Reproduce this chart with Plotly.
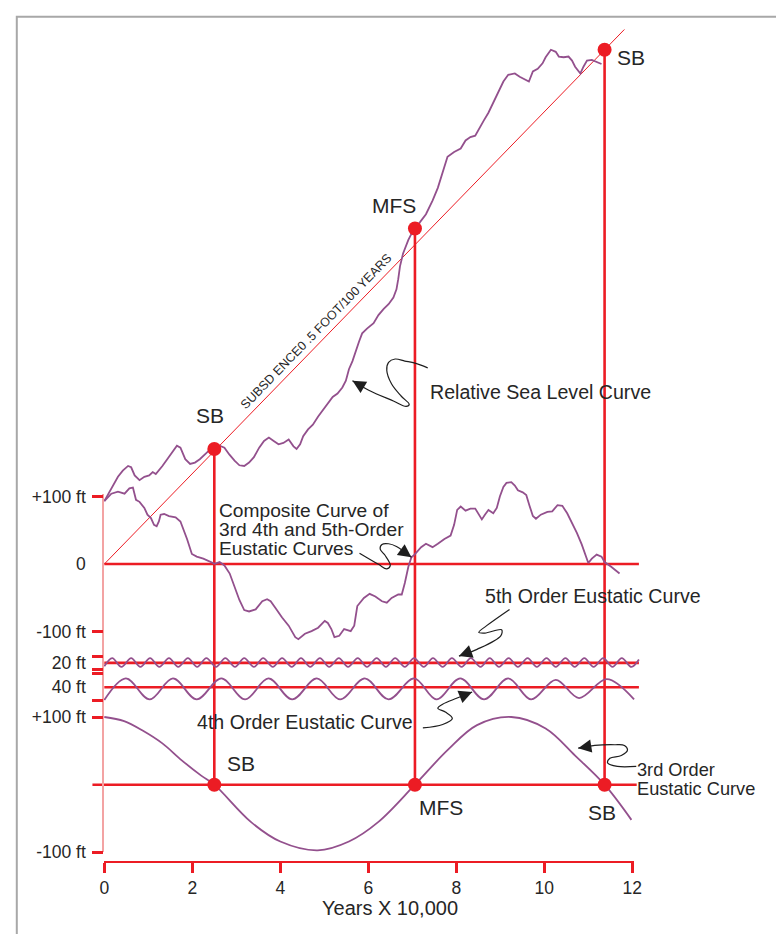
import math
import plotly.graph_objects as go

# ---------------------------------------------------------------------------
# Data: time in units of 10,000 years, elevations in feet
# ---------------------------------------------------------------------------

# Composite of 3rd, 4th and 5th-order eustatic curves (relative to its datum)
COMPOSITE_X = [0, 0.16, 0.31, 0.46, 0.57, 0.65, 0.72, 0.80, 0.91, 0.98,
               1.06, 1.13, 1.19, 1.24, 1.28, 1.36, 1.47, 1.62, 1.73, 1.80,
               1.88, 1.99, 2.10, 2.25, 2.40, 2.51, 2.62, 2.73, 2.85, 2.96,
               3.07, 3.18, 3.29, 3.44, 3.59, 3.70, 3.78, 3.89, 4.04, 4.19,
               4.34, 4.41, 4.56, 4.71, 4.86, 5.01, 5.08, 5.16, 5.23, 5.34,
               5.45, 5.60, 5.68, 5.75, 5.90, 6.03, 6.16, 6.31, 6.42, 6.53,
               6.68, 6.76, 6.83, 6.91, 6.98, 7.05, 7.20, 7.31, 7.39, 7.46,
               7.58, 7.73, 7.87, 7.95, 8.02, 8.10, 8.21, 8.32, 8.43, 8.51,
               8.58, 8.65, 8.73, 8.84, 8.92, 8.99, 9.07, 9.14, 9.25, 9.33,
               9.40, 9.51, 9.59, 9.66, 9.74, 9.81, 9.92, 10.07, 10.18, 10.30,
               10.41, 10.52, 10.63, 10.74, 10.85, 10.93, 11.00, 11.08, 11.19, 11.30,
               11.37, 11.52, 11.71]
COMPOSITE_FT = [93, 104, 107, 104, 112, 113, 95, 92, 83, 73,
                68, 58, 56, 63, 73, 74, 71, 69, 63, 51,
                37, 15, 11, 8, 3, 0.5, 3, -2, -14, -33,
                -53, -68, -70, -67, -55, -52, -55, -65, -79, -91,
                -108, -111, -103, -99, -94, -84, -87, -96, -108, -106,
                -96, -99, -91, -62, -50, -44, -48, -55, -57, -50,
                -45, -45, -28, -4, 10, 14, 25, 30, 27, 25,
                30, 37, 42, 58, 80, 85, 79, 82, 82, 73,
                66, 73, 80, 75, 83, 100, 114, 120, 121, 116,
                109, 106, 102, 87, 71, 67, 73, 77, 78, 87,
                86, 75, 61, 46, 29, 15, 1.5, 8, 14, 11,
                3, -4, -14]

# Relative sea level curve (composite eustasy plus subsidence)
RSL_X = [0, 0.09, 0.20, 0.31, 0.42, 0.54, 0.61, 0.69, 0.80, 0.91,
         1.02, 1.10, 1.17, 1.24, 1.32, 1.43, 1.54, 1.65, 1.73, 1.84,
         1.95, 2.06, 2.17, 2.29, 2.40, 2.51, 2.62, 2.73, 2.84, 2.96,
         3.07, 3.18, 3.29, 3.40, 3.52, 3.63, 3.74, 3.85, 3.96, 4.07,
         4.19, 4.30, 4.37, 4.45, 4.52, 4.63, 4.74, 4.86, 5.01, 5.08,
         5.19, 5.30, 5.41, 5.49, 5.56, 5.64, 5.71, 5.79, 5.86, 5.97,
         6.12, 6.23, 6.35, 6.46, 6.57, 6.64, 6.68, 6.72, 6.79, 6.91,
         7.02, 7.06, 7.17, 7.31, 7.46, 7.58, 7.69, 7.80, 7.95, 8.10,
         8.21, 8.32, 8.43, 8.51, 8.62, 8.73, 8.84, 8.95, 9.07, 9.18,
         9.33, 9.44, 9.55, 9.65, 9.74, 9.85, 9.96, 10.03, 10.15, 10.26,
         10.33, 10.44, 10.55, 10.63, 10.70, 10.78, 10.82, 10.89, 10.97, 11.08,
         11.19, 11.30]
RSL_FT = [93, 104, 116, 129, 138, 145, 143, 131, 124, 129,
          131, 136, 133, 138, 145, 155, 165, 175, 172, 155,
          148, 150, 155, 162, 169, 172, 175, 172, 162, 153,
          146, 145, 150, 158, 172, 182, 187, 182, 177, 179,
          184, 174, 170, 177, 189, 199, 206, 218, 232, 237,
          247, 252, 261, 271, 288, 300, 315, 329, 341, 348,
          356, 368, 377, 384, 394, 406, 421, 440, 459, 479,
          493, 496, 505, 517, 537, 556, 580, 602, 609, 614,
          626, 631, 633, 643, 655, 667, 682, 699, 713, 723,
          725, 720, 716, 713, 728, 732, 740, 749, 760, 757,
          750, 749, 750, 744, 735, 728, 725, 735, 744, 745,
          742, 739]

# 3rd-order eustatic curve
THIRD_X = [0, 0.45, 0.87, 1.32, 1.76, 2.21, 2.5, 3.33, 4.0, 4.85,
           5.56, 6.23, 7.06, 7.8, 8.47, 9.25, 10.03, 10.7, 11.37, 11.98]
THIRD_FT = [100, 94, 80, 61, 36, 13, 0, -55, -84, -97,
            -84, -55, 0, 51, 88, 100, 83, 43, 0, -52]

# 4th-order eustatic curve (turning points)
FOURTH_X = [0, 0.49, 1.03, 1.56, 2.10, 2.66, 3.20, 3.73, 4.27, 4.83,
            5.36, 5.92, 6.46, 7.04, 7.55, 8.09, 8.63, 9.18, 9.70, 10.26,
            10.79, 11.42, 12.04]
FOURTH_FT = [-19, 13, -18, 13, -18, 13, -18, 13, -18, 13,
             -18, 13, -18, 13, -18, 13, -18, 13, -18, 11,
             -16, 12, -18]

# 5th-order eustatic curve (turning points)
FIFTH_X = [0, 0.18, 0.39, 0.61, 0.82, 1.04, 1.25, 1.47, 1.68, 1.90,
           2.11, 2.32, 2.54, 2.75, 2.97, 3.18, 3.40, 3.61, 3.83, 4.04,
           4.26, 4.47, 4.68, 4.90, 5.11, 5.33, 5.54, 5.76, 5.97, 6.19,
           6.40, 6.61, 6.83, 7.04, 7.26, 7.47, 7.69, 7.90, 8.12, 8.33,
           8.55, 8.76, 8.97, 9.19, 9.40, 9.62, 9.83, 10.05, 10.26, 10.48,
           10.69, 10.91, 11.12, 11.34, 11.55, 11.76, 11.98, 12.15]
FIFTH_FT = [-5, 7, -6, 7, -6, 7, -6, 7, -6, 7,
            -6, 7, -6, 7, -6, 7, -6, 7, -6, 7,
            -6, 7, -6, 7, -6, 7, -6, 7, -6, 7,
            -6, 7, -6, 7, -6, 7, -6, 7, -6, 7,
            -6, 7, -6, 7, -6, 7, -6, 7, -6, 7,
            -6, 7, -6, 7, -6, 7, -6, 5]

# Subsidence trend: 0.5 foot / 100 years
SUBSIDENCE_X = [0, 11.82]
SUBSIDENCE_FT = [0, 790]

# Sequence surfaces: sequence boundaries and maximum flooding surface
SURFACE_NAMES = ["SB", "MFS", "SB"]
SURFACE_X = [2.5, 7.06, 11.37]
SURFACE_RSL_FT = [170, 496, 760]

# Axis ticks
X_TICKS = [0, 2, 4, 6, 8, 10, 12]
Y_TICK_TEXT = ["+100 ft", "0", "-100 ft", "20 ft", "40 ft", "+100 ft", "-100 ft"]

# ---------------------------------------------------------------------------
# Page geometry and styling (pixels from the top-left of the figure)
# ---------------------------------------------------------------------------
W, H = 776, 934
X0_PX, PX_PER_X = 101.0, 44.75     # column of t = 0, pixels per 10,000 yr
Y0_PX, PX_PER_FT = 567.0, 0.69     # row of the composite datum, pixels per foot

# vertical offsets (ft) of the stacked eustatic panels
FIFTH_BASE = -146
FOURTH_BASE = -182
THIRD_BASE = -326
LINE_END = 12.15

RED = "#ec1c24"
PINK = "#f3a3a3"
PURPLE = "#93508d"
INK = "#262626"
FONT = "Liberation Sans, Arial, Helvetica, sans-serif"
LABEL_SIZE = 19.6
PLOTLY_LINE_SPACING = 1.3         # multi-line text advance, in em of the base font


def x_at(px):
    return (px - X0_PX) / PX_PER_X


def ft_at(py):
    return (Y0_PX - py) / PX_PER_FT


def paper_x(px):
    return px / W


def paper_y(py):
    return 1 - py / H


fig = go.Figure()


def line(x, y, color, width, shape="linear"):
    fig.add_trace(go.Scatter(x=x, y=y, mode="lines", hoverinfo="skip",
                             line=dict(color=color, width=width, shape=shape)))


# datum lines of each panel
line([0, LINE_END], [0, 0], RED, 2.6)
line([0, LINE_END], [FIFTH_BASE, FIFTH_BASE], RED, 2.6)
line([0, LINE_END], [FOURTH_BASE, FOURTH_BASE], RED, 2.6)
line([-0.27, 12.1], [THIRD_BASE, THIRD_BASE], RED, 2.6)

# sequence-surface verticals from the relative sea level curve to the 3rd-order datum
for sx, top in zip(SURFACE_X, SURFACE_RSL_FT):
    line([sx, sx], [top, THIRD_BASE], RED, 2.6)

# subsidence trend
line(SUBSIDENCE_X, SUBSIDENCE_FT, RED, 1)

# curves
line(RSL_X, RSL_FT, PURPLE, 1.8)
line(COMPOSITE_X, COMPOSITE_FT, PURPLE, 1.8)
line(FIFTH_X, [v + FIFTH_BASE for v in FIFTH_FT], PURPLE, 1.8, "spline")
line(FOURTH_X, [v + FOURTH_BASE for v in FOURTH_FT], PURPLE, 1.8, "spline")
line(THIRD_X, [v + THIRD_BASE for v in THIRD_FT], PURPLE, 1.8, "spline")

# surface markers
fig.add_trace(go.Scatter(x=SURFACE_X, y=SURFACE_RSL_FT, mode="markers", hoverinfo="skip",
                         marker=dict(color=RED, size=14, line=dict(width=0))))
fig.add_trace(go.Scatter(x=SURFACE_X, y=[THIRD_BASE] * len(SURFACE_X), mode="markers",
                         hoverinfo="skip", marker=dict(color=RED, size=14, line=dict(width=0))))

# curly leader lines for the curve captions (x, ft); the last point is the arrow tip
LEADERS = [
    ([7.35, 7.06, 6.83, 6.61, 6.46, 6.42, 6.53, 6.75, 6.93, 6.86, 6.57, 6.01, 5.64],
     [290, 297, 300, 303, 298, 286, 266, 248, 236, 233, 241, 257, 271]),
    ([5.80, 6.23, 6.42, 6.50, 6.38, 6.27, 6.31, 6.46, 6.64, 6.98],
     [16, -0.4, -7, -2, 13, 22, 29, 30, 26, 10]),
    ([9.21, 8.69, 8.51, 8.65, 9.03, 9.01, 8.47, 8.06],
     [-67, -91, -101, -102, -97, -106, -126, -136]),
    ([7.24, 7.69, 7.91, 7.76, 7.58, 7.69, 8.02, 8.36],
     [-242, -237, -228, -219, -213, -207, -198, -189]),
    ([12.09, 11.66, 11.44, 11.49, 11.75, 11.89, 11.82, 11.60, 11.15, 10.77],
     [-299, -299, -294, -287, -283, -275, -268, -267, -268, -272]),
]
annotations = []
for lx, ly in LEADERS:
    line(lx, ly, "#1e1e1e", 1.2, "spline")
    dx = (lx[-2] - lx[-1]) * PX_PER_X
    dy = (ly[-2] - ly[-1]) * PX_PER_FT
    n = math.hypot(dx, dy)
    annotations.append(dict(x=lx[-1], y=ly[-1], xref="x", yref="y", text="",
                            showarrow=True, arrowhead=2, arrowsize=2.2, arrowwidth=1.2,
                            arrowcolor="#1e1e1e", ax=dx / n * 12, ay=-dy / n * 12))

# axis-instantiating invisible points for the display axes
for xa, ya in (("x2", "y"), ("x", "y2"), ("x", "y3")):
    fig.add_trace(go.Scatter(x=[0], y=[0], xaxis=xa, yaxis=ya, mode="markers",
                             marker=dict(opacity=0), hoverinfo="skip"))


def text(x, y, s, size=LABEL_SIZE, xanchor="left", xshift=0, yshift=0, angle=0,
         ref="data", align="left"):
    annotations.append(dict(x=x, y=y, xref="x" if ref == "data" else "paper",
                            yref="y" if ref == "data" else "paper", text=s,
                            showarrow=False, xanchor=xanchor, yanchor="middle",
                            xshift=xshift, yshift=yshift, textangle=angle, align=align,
                            borderpad=0, borderwidth=0,
                            font=dict(family=FONT, size=size, color=INK)))


def stacked_text(x, y_mid, lines, size, spacing_px):
    """Tightly stacked caption: glyphs at `size`, line advance of `spacing_px`."""
    body = "<br>".join("<span style='font-size:%.1fpx'>%s</span>" % (size, t) for t in lines)
    text(x, y_mid, body, spacing_px / PLOTLY_LINE_SPACING)


# surface labels at both ends of each vertical
top_shift = [(-4, 34), (-21, 23), (26, -8)]
bottom_shift = [(27, 21), (26, -23), (-3, -28)]
for name, sx, top, (tx, ty), (bx, by) in zip(SURFACE_NAMES, SURFACE_X, SURFACE_RSL_FT,
                                             top_shift, bottom_shift):
    text(sx, top, name, 21, "center", tx, ty)
    text(sx, THIRD_BASE, name, 21, "center", bx, by)

# curve captions
text(7.40, 253.6, "Relative Sea Level Curve")
stacked_text(2.61, 50.7, ["Composite Curve of", "3rd 4th and 5th-Order", "Eustatic Curves"],
             19.2, 19.0)
text(8.65, -47.8, "5th Order Eustatic Curve")
text(7.02, -233.3, "4th Order Eustatic Curve", xanchor="right")
stacked_text(12.11, -318.5, ["3rd Order", "Eustatic Curve"], 18.2, 18.6)

# label along the subsidence trend
slope_deg = math.degrees(math.atan((SUBSIDENCE_FT[1] * PX_PER_FT) / (SUBSIDENCE_X[1] * PX_PER_X)))
text(4.80, 343.5, "SUBSD ENCE0 .5 FOOT/100 YEARS", 12.5, "center", angle=-slope_deg)

# time-axis title
text(paper_x(392), paper_y(917.5), "Years X 10,000", 20, "center", ref="paper")

# ---------------------------------------------------------------------------
# Axes
# ---------------------------------------------------------------------------
AXIS_TOP_PX, AXIS_BOTTOM_PX, X_AXIS_PX, X_AXIS_END_PX = 496, 861, 871, 640
y_tick_vals = [100, -100, FIFTH_BASE + 10, FIFTH_BASE - 10, FOURTH_BASE + 20,
               FOURTH_BASE - 20, THIRD_BASE + 100, THIRD_BASE - 100]
y_label_vals = [100, 0, -100, FIFTH_BASE, FOURTH_BASE, THIRD_BASE + 100, THIRD_BASE - 100]
y_domain = [paper_y(AXIS_BOTTOM_PX), paper_y(AXIS_TOP_PX)]
y_range = [ft_at(AXIS_BOTTOM_PX), ft_at(AXIS_TOP_PX)]
tick_font = dict(family=FONT, size=17.5, color=INK)

fig.update_layout(
    width=W, height=H, margin=dict(l=0, r=0, t=0, b=0),
    paper_bgcolor="white", plot_bgcolor="rgba(0,0,0,0)", showlegend=False,
    xaxis=dict(domain=[0, 1], range=[x_at(0), x_at(W)], visible=False),
    yaxis=dict(domain=[0, 1], range=[ft_at(H), ft_at(0)], visible=False),
    xaxis2=dict(domain=[paper_x(X0_PX), paper_x(X_AXIS_END_PX)], range=[0, x_at(X_AXIS_END_PX)],
                anchor="free", position=paper_y(X_AXIS_PX), tickvals=X_TICKS,
                showline=True, linecolor=RED, linewidth=1.5, ticks="outside",
                ticklen=10, tickwidth=2.5, tickcolor=RED, showgrid=False, zeroline=False,
                tickfont=tick_font),
    yaxis2=dict(domain=y_domain, range=y_range, anchor="free", position=paper_x(100),
                tickvals=y_tick_vals, showticklabels=False, showline=True,
                linecolor=PINK, linewidth=1.6, ticks="outside", ticklen=11,
                tickwidth=2.5, tickcolor=RED, showgrid=False, zeroline=False),
    yaxis3=dict(domain=y_domain, range=y_range, anchor="free", position=paper_x(100),
                tickvals=y_label_vals, ticktext=Y_TICK_TEXT, showline=False,
                ticks="outside", ticklen=14, tickcolor="rgba(0,0,0,0)",
                showgrid=False, zeroline=False, tickfont=tick_font),
    annotations=annotations,
    shapes=[dict(type="rect", xref="paper", yref="paper", x0=paper_x(12), x1=1.05,
                 y0=-0.05, y1=paper_y(9), line=dict(color="#a8a8a8", width=2))],
)

fig.write_html("out.html", config={"displayModeBar": False})
